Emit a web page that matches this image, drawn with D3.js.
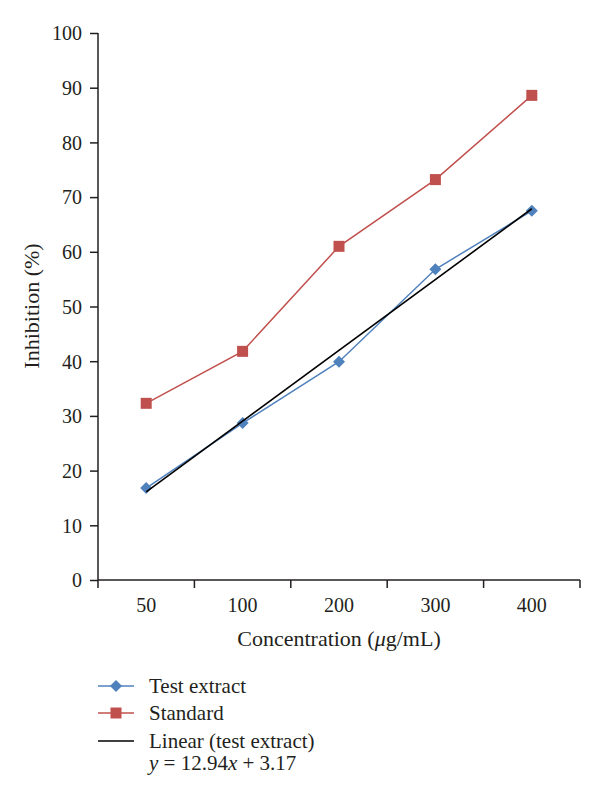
<!DOCTYPE html>
<html><head><meta charset="utf-8">
<script src="https://cdn.jsdelivr.net/npm/d3@7"></script>
<style>body{margin:0;background:#fff}svg{display:block}text{font-family:"Liberation Serif","DejaVu Serif",serif;fill:#231f20}</style>
</head><body>
<svg id="c" width="600" height="798"></svg>
<script>
const categories = ["50","100","200","300","400"];
const testExtract = [16.8, 28.7, 39.9, 56.8, 67.5];
const standard = [32.3, 41.8, 61.0, 73.2, 88.6];
const trendSlope = 12.94, trendIntercept = 3.17;
const yTicks = [0,10,20,30,40,50,60,70,80,90,100];

const svg = d3.select("#c");
const L=98, R=580, T=33, B=580;
const x = d3.scaleBand().domain(categories).range([L,R]);
const y = d3.scaleLinear().domain([0,100]).range([B,T]);

// y axis
const ya = svg.append("g").attr("transform",`translate(${L},0)`)
  .call(d3.axisLeft(y).tickValues(yTicks).tickSize(8).tickPadding(8));
ya.attr("font-size",null).attr("font-family",null);
ya.selectAll("text").attr("font-size",20).style("font-size","20px").attr("dy","0.34em");
ya.selectAll("path,line").attr("stroke","#231f20").attr("stroke-width",1.5);
ya.select(".domain").attr("d",`M0,${T}V${B}`);

// x axis
const xa = svg.append("g").attr("transform",`translate(0,${B})`)
  .call(d3.axisBottom(x).tickSize(0).tickPadding(18));
xa.attr("font-size",null).attr("font-family",null);
xa.selectAll("text").attr("font-size",20).style("font-size","20px");
xa.select(".domain").attr("d",`M${L},0H${R}`).attr("stroke","#231f20").attr("stroke-width",1.5);
const bounds = [L].concat(categories.map(c=>x(c)+x.bandwidth()));
xa.selectAll("line.bt").data(bounds).enter().append("line").attr("class","bt")
  .attr("x1",d=>d).attr("x2",d=>d).attr("y1",0).attr("y2",8)
  .attr("stroke","#231f20").attr("stroke-width",1.5);

const cx = c => x(c)+x.bandwidth()/2;

const line = d3.line().x(d=>cx(d.c)).y(d=>y(d.v));
const stdData = categories.map((c,i)=>({c,v:standard[i]}));
const teData = categories.map((c,i)=>({c,v:testExtract[i]}));

// Standard series
svg.append("path").datum(stdData).attr("d",line).attr("fill","none").attr("stroke","#c0504d").attr("stroke-width",1.5);
svg.selectAll("rect.std").data(stdData).enter().append("rect").attr("class","std")
  .attr("x",d=>cx(d.c)-5.5).attr("y",d=>y(d.v)-5.5).attr("width",11).attr("height",11).attr("fill","#c0504d");

// Test extract series
svg.append("path").datum(teData).attr("d",line).attr("fill","none").attr("stroke","#4f81bd").attr("stroke-width",1.5);
const dia = d3.symbol().type(d3.symbolSquare).size(72);
svg.selectAll("path.te").data(teData).enter().append("path").attr("class","te")
  .attr("transform",d=>`translate(${cx(d.c)},${y(d.v)}) rotate(45)`)
  .attr("d",dia).attr("fill","#4f81bd");

// Trend line
const trend = [0, categories.length-1].map(i=>({c:categories[i], v: trendSlope*(i+1)+trendIntercept}));
svg.append("path").datum(trend).attr("d",line).attr("fill","none").attr("stroke","#000").attr("stroke-width",1.6);

// axis titles
svg.append("text").attr("x",339).attr("y",646).attr("text-anchor","middle").style("font-size","22px")
  .html('Concentration (<tspan font-style="italic">μ</tspan>g/mL)');
svg.append("text").attr("transform","translate(39,306) rotate(-90)").attr("text-anchor","middle").style("font-size","22px")
  .text("Inhibition (%)");

// legend
const lg = svg.append("g");
const ly = [686, 713, 741];
lg.append("line").attr("x1",98).attr("x2",134).attr("y1",ly[0]).attr("y2",ly[0]).attr("stroke","#4f81bd").attr("stroke-width",1.5);
lg.append("path").attr("transform",`translate(116,${ly[0]}) rotate(45)`).attr("d",dia).attr("fill","#4f81bd");
lg.append("line").attr("x1",98).attr("x2",134).attr("y1",ly[1]).attr("y2",ly[1]).attr("stroke","#c0504d").attr("stroke-width",1.5);
lg.append("rect").attr("x",110.5).attr("y",ly[1]-5.5).attr("width",11).attr("height",11).attr("fill","#c0504d");
lg.append("line").attr("x1",98).attr("x2",134).attr("y1",ly[2]).attr("y2",ly[2]).attr("stroke","#000").attr("stroke-width",1.5);
const lt = [["Test extract",ly[0]],["Standard",ly[1]],["Linear (test extract)",ly[2]]];
lg.selectAll("text.lt").data(lt).enter().append("text").attr("class","lt")
  .attr("x",149).attr("y",d=>d[1]+7).style("font-size","21px").text(d=>d[0]);
lg.append("text").attr("x",149).attr("y",770).style("font-size","21px")
  .html(`<tspan font-style="italic">y</tspan> = ${trendSlope}<tspan font-style="italic">x</tspan> + ${trendIntercept}`);
</script>
</body></html>
